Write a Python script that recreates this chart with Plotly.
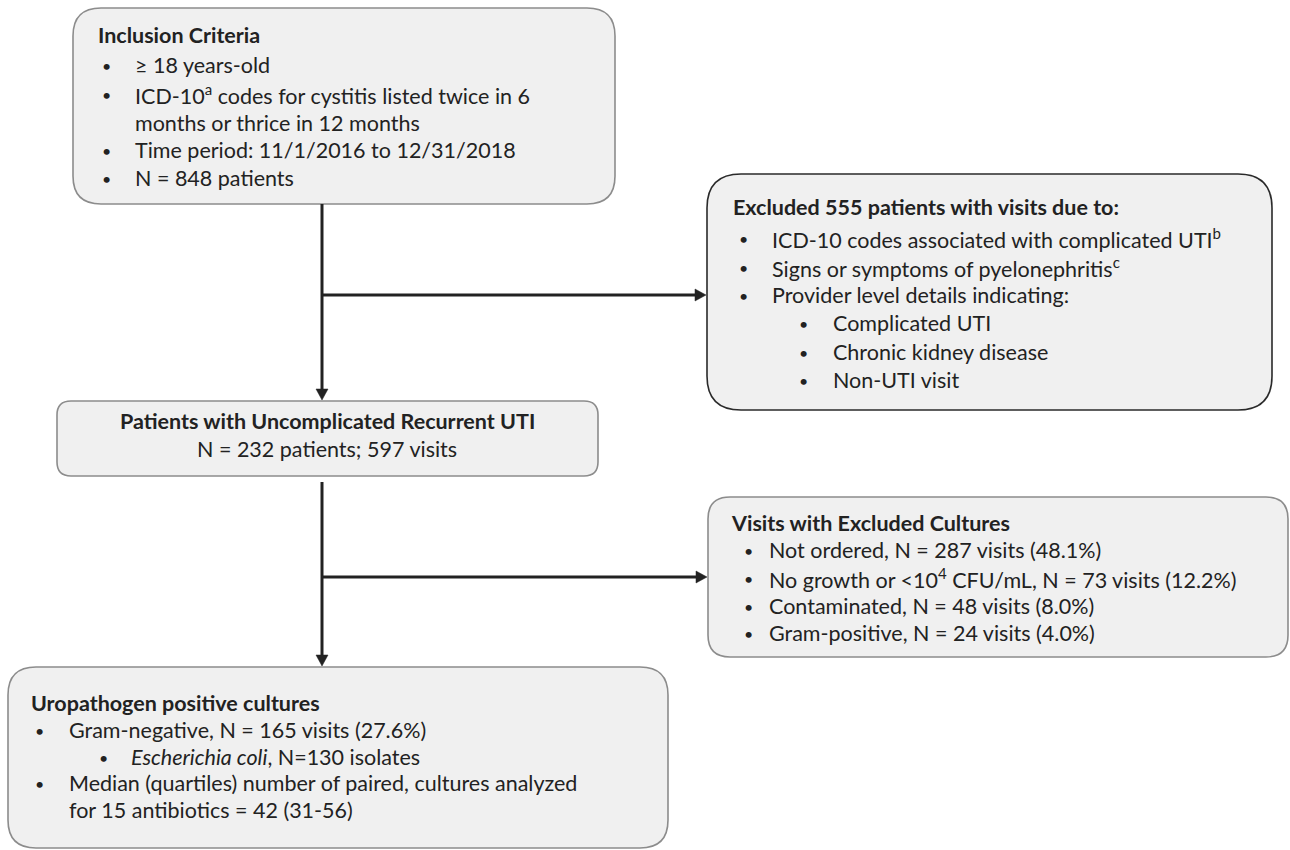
import plotly.graph_objects as go

# ---- content of the flow chart ----
box1_title = "Inclusion Criteria"
box1_items = ["≥ 18 years-old",
              "ICD-10<sup>a</sup> codes for cystitis listed twice in 6",
              "months or thrice in 12 months",
              "Time period: 11/1/2016 to 12/31/2018",
              "N = 848 patients"]
box1_levels = [1, 1, 0, 1, 1]

box2_title = "Excluded 555 patients with visits due to:"
box2_items = ["ICD-10 codes associated with complicated UTI<sup>b</sup>",
              "Signs or symptoms of pyelonephritis<sup>c</sup>",
              "Provider level details indicating:",
              "Complicated UTI",
              "Chronic kidney disease",
              "Non-UTI visit"]
box2_levels = [1, 1, 1, 2, 2, 2]

box3_title = "Patients with Uncomplicated Recurrent UTI"
box3_sub = "N = 232 patients; 597 visits"

box4_title = "Visits with Excluded Cultures"
box4_items = ["Not ordered, N = 287 visits (48.1%)",
              "No growth or <10<sup>4</sup> CFU/mL, N = 73 visits (12.2%)",
              "Contaminated, N = 48 visits (8.0%)",
              "Gram-positive, N = 24 visits (4.0%)"]
box4_levels = [1, 1, 1, 1]

box5_title = "Uropathogen positive cultures"
box5_items = ["Gram-negative, N = 165 visits (27.6%)",
              "<i>Escherichia coli</i>, N=130 isolates",
              "Median (quartiles) number of paired, cultures analyzed",
              "for 15 antibiotics = 42 (31-56)"]
box5_levels = [1, 2, 1, 0]

# ---- styling / layout ----
FONT = "Lato"
FS = 21.5
BULLET_FS = 16
TXT = "#222222"
FILL = "#f0f0f0"
GRAY = "#8c8c8c"
DARK = "#2a2a2a"
ARROW = "#222222"
LW = 3

shapes = []
annotations = []


def rrect(x0, y0, x1, y1, r, line_color, lw=1.6):
    path = (f"M{x0 + r},{y0} L{x1 - r},{y0} Q{x1},{y0} {x1},{y0 + r} "
            f"L{x1},{y1 - r} Q{x1},{y1} {x1 - r},{y1} L{x0 + r},{y1} "
            f"Q{x0},{y1} {x0},{y1 - r} L{x0},{y0 + r} Q{x0},{y0} {x0 + r},{y0} Z")
    shapes.append(dict(type="path", path=path, xref="x", yref="y",
                       fillcolor=FILL, line=dict(color=line_color, width=lw),
                       layer="below"))


def text(x, y, s, anchor="left", bold=False, size=FS):
    if bold:
        s = f"<b>{s}</b>"
    annotations.append(dict(x=x, y=y, xref="x", yref="y", text=s,
                            showarrow=False, xanchor=anchor, yanchor="middle",
                            font=dict(family=FONT, size=size, color=TXT),
                            borderpad=0))


def bullet_box(title, items, levels, tx, ys, bx, txx, sbx=0, stx=0):
    text(tx, ys[0], title, bold=True)
    for s, lv, y in zip(items, levels, ys[1:]):
        if lv == 1:
            text(bx, y, "•", size=BULLET_FS)
            text(txx, y, s)
        elif lv == 2:
            text(sbx, y, "•", size=BULLET_FS)
            text(stx, y, s)
        else:
            text(txx, y, s)


def arrow(x0, y0, x1, y1, head=11, half=6):
    # straight connector ending in a filled triangular head at (x1, y1)
    if x0 == x1:  # vertical, pointing down
        shapes.append(dict(type="line", x0=x0, y0=y0, x1=x1, y1=y1 - head + 1,
                           xref="x", yref="y", line=dict(color=ARROW, width=LW)))
        p = f"M{x1 - half},{y1 - head} L{x1 + half},{y1 - head} L{x1},{y1} Z"
    else:  # horizontal, pointing right
        shapes.append(dict(type="line", x0=x0, y0=y0, x1=x1 - head + 1, y1=y1,
                           xref="x", yref="y", line=dict(color=ARROW, width=LW)))
        p = f"M{x1 - head},{y1 - half} L{x1 - head},{y1 + half} L{x1},{y1} Z"
    shapes.append(dict(type="path", path=p, xref="x", yref="y",
                       fillcolor=ARROW, line=dict(color=ARROW, width=0.5)))


# boxes
rrect(73, 8, 615, 204, 28, GRAY)
bullet_box(box1_title, box1_items, box1_levels, 97,
           [35, 65, 94, 123, 150, 178], 101, 134)

rrect(707, 174, 1272, 410, 34, DARK)
bullet_box(box2_title, box2_items, box2_levels, 732,
           [207, 238, 267, 295, 323, 352, 380], 738, 771, 798, 832)

rrect(57, 401, 598, 476, 14, GRAY)
text(327, 421, box3_title, anchor="center", bold=True)
text(327, 449, box3_sub, anchor="center")

rrect(708, 497, 1288, 657, 22, GRAY)
bullet_box(box4_title, box4_items, box4_levels, 730,
           [523, 550, 578, 606, 633], 743, 768)

rrect(8, 667, 668, 848, 28, GRAY)
bullet_box(box5_title, box5_items, box5_levels, 30,
           [703, 730, 757, 783, 810], 34, 68, 98, 130)

# connectors
arrow(322, 204, 322, 400)
arrow(322, 295, 706, 295)
arrow(322, 482, 322, 666)
arrow(322, 577, 707, 577)

fig = go.Figure()
fig.update_layout(
    width=1290, height=850,
    margin=dict(l=0, r=0, t=0, b=0),
    paper_bgcolor="white", plot_bgcolor="white",
    xaxis=dict(range=[0, 1290], visible=False, fixedrange=True),
    yaxis=dict(range=[850, 0], visible=False, fixedrange=True),
    shapes=shapes, annotations=annotations, showlegend=False,
)

fig.write_html("out.html", config={"displayModeBar": False},
               post_script="document.body.style.margin='0px';"
                           "document.body.style.overflow='hidden';")
